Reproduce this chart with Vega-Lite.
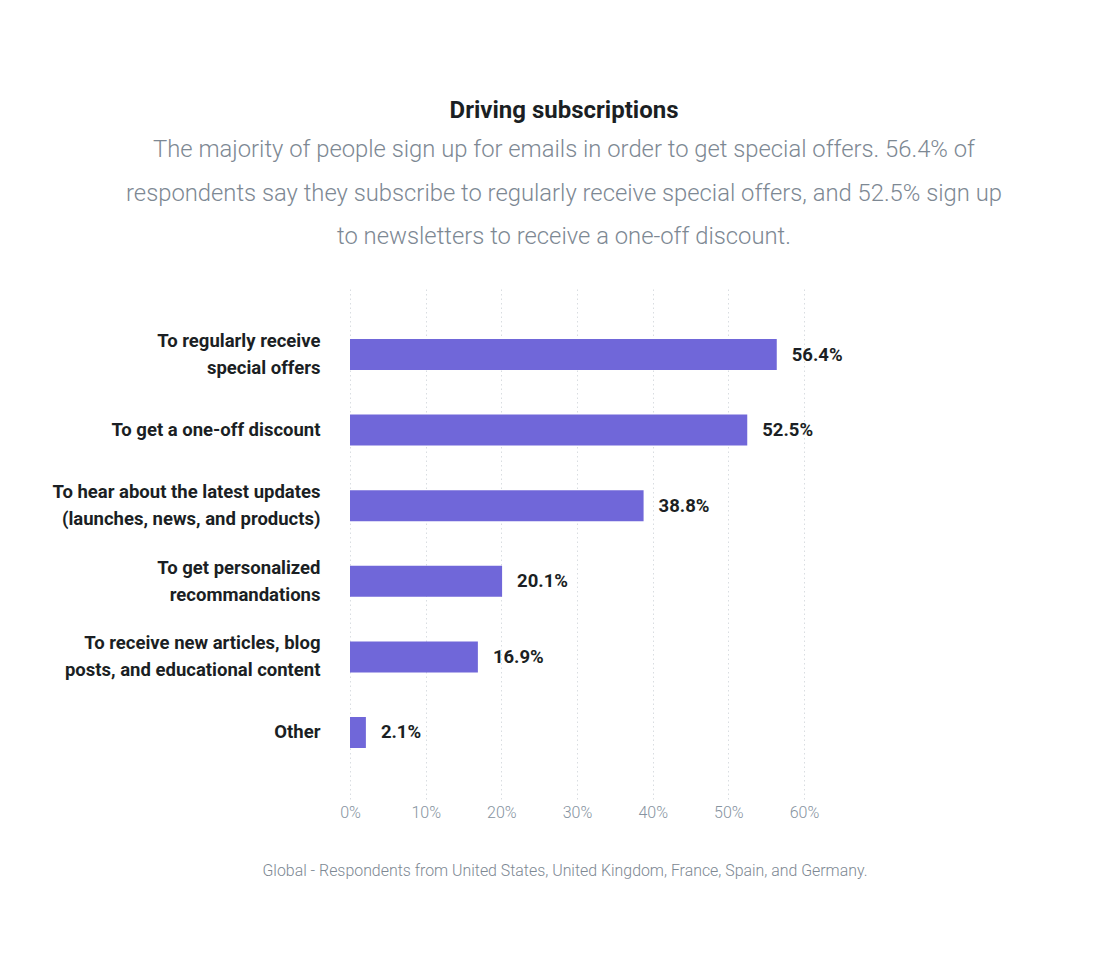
{
  "$schema": "https://vega.github.io/schema/vega-lite/v6.json",
  "autosize": {"type": "none"},
  "width": 454,
  "height": 511,
  "padding": {"left": 350, "top": 288, "right": 314, "bottom": 167},
  "background": "#ffffff",
  "config": {
    "font": "Roboto",
    "view": {"stroke": null}
  },
  "title": {
    "text": "Driving subscriptions",
    "subtitle": [
      "The majority of people sign up for emails in order to get special offers. 56.4% of",
      "respondents say they subscribe to regularly receive special offers, and 52.5% sign up",
      "to newsletters to receive a one-off discount."
    ],
    "anchor": "middle",
    "frame": "group",
    "dx": -13,
    "offset": 39,
    "font": "Roboto",
    "fontSize": 24,
    "fontWeight": "bold",
    "color": "#1b1f24",
    "subtitleFont": "Roboto",
    "subtitleFontSize": 23.8,
    "subtitleFontWeight": 300,
    "subtitleColor": "#7d8893",
    "subtitleLineHeight": 43.5,
    "subtitlePadding": 15
  },
  "data": {
    "values": [
      {"reason": "To regularly receive\nspecial offers", "share": 0.564},
      {"reason": "To get a one-off discount", "share": 0.525},
      {"reason": "To hear about the latest updates\n(launches, news, and products)", "share": 0.388},
      {"reason": "To get personalized\nrecommandations", "share": 0.201},
      {"reason": "To receive new articles, blog\nposts, and educational content", "share": 0.169},
      {"reason": "Other", "share": 0.021}
    ]
  },
  "encoding": {
    "y": {
      "field": "reason",
      "type": "nominal",
      "sort": null,
      "scale": {"paddingInner": 0.59, "paddingOuter": 0.675},
      "axis": {
        "title": null,
        "domain": false,
        "ticks": false,
        "labelPadding": 30,
        "labelFont": "Roboto",
        "labelFontSize": 18.5,
        "labelFontWeight": "bold",
        "labelColor": "#1b1f24",
        "labelLineHeight": 27,
        "labelLimit": 400,
        "labelOffset": {"condition": {"test": "indexof(datum.value, '\\n') >= 0", "value": -13.5}, "value": 0},
        "labelExpr": "split(datum.value, '\\n')"
      }
    },
    "x": {
      "field": "share",
      "type": "quantitative",
      "scale": {"domain": [0, 0.6]},
      "axis": {
        "values": [0, 0.1, 0.2, 0.3, 0.4, 0.5, 0.6],
        "format": ".0%",
        "domain": false,
        "ticks": false,
        "grid": true,
        "gridColor": "#d9dde1",
        "gridDash": [1.5, 3],
        "gridWidth": 1,
        "labelFlush": false,
        "labelFont": "Roboto",
        "labelFontSize": 16,
        "labelFontWeight": 300,
        "labelColor": "#8693a0",
        "labelPadding": 5,
        "title": "Global - Respondents from United States, United Kingdom, France, Spain, and Germany.",
        "titleFont": "Roboto",
        "titleFontSize": 15.9,
        "titleFontWeight": 300,
        "titleColor": "#7d8893",
        "titleX": 214.5,
        "titleAnchor": null,
        "titleAlign": "center",
        "titlePadding": 42
      }
    }
  },
  "layer": [
    {"mark": {"type": "bar", "color": "#7067d9"}},
    {
      "mark": {"type": "text", "align": "left", "baseline": "middle", "dx": 15, "font": "Roboto", "fontSize": 18.5, "fontWeight": "bold", "color": "#1b1f24"},
      "encoding": {"text": {"field": "share", "type": "quantitative", "format": ".1%"}}
    }
  ]
}
